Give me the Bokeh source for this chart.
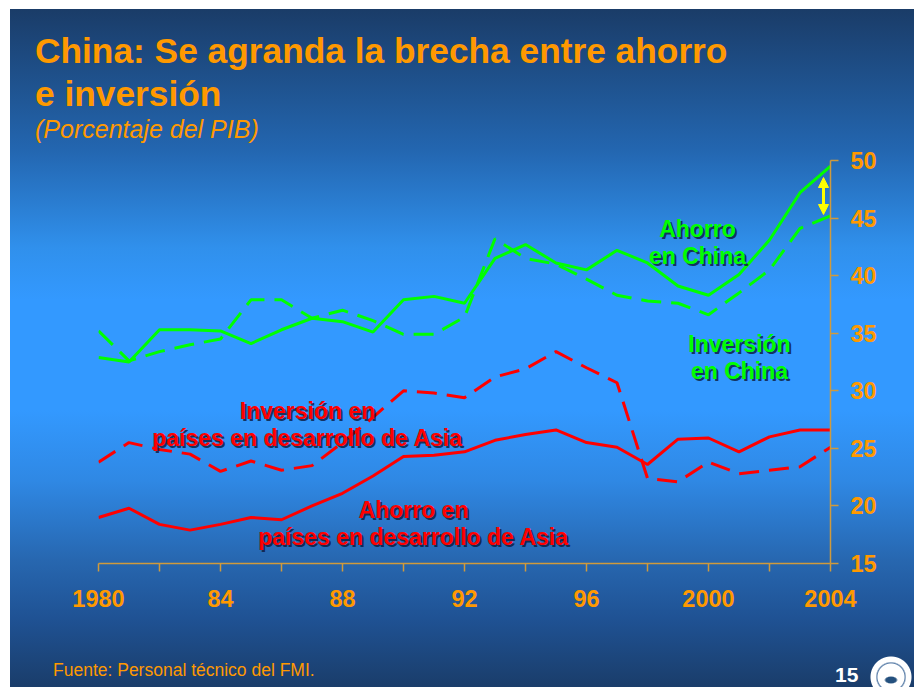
from bokeh.plotting import figure
from bokeh.models import Range1d, FixedTicker, Label, Arrow, NormalHead, Div
from bokeh.layouts import column
from bokeh.embed import file_html
from bokeh.resources import INLINE

# ---------------- data (percent of GDP) ----------------
years = list(range(1980, 2005))
china_saving = [32.9, 32.5, 35.3, 35.3, 35.2, 34.1, 35.3, 36.3, 36.0, 35.1, 37.9, 38.2, 37.6,
                41.5, 42.7, 41.1, 40.5, 42.2, 41.1, 39.1, 38.3, 40.1, 43.1, 47.2, 49.5]
china_invest = [35.2, 32.6, 33.4, 34.0, 34.5, 37.9, 37.9, 36.3, 37.0, 36.1, 34.9, 34.9, 36.4,
                43.2, 41.5, 41.0, 39.7, 38.3, 37.8, 37.6, 36.6, 38.5, 40.5, 44.1, 45.2]
asia_invest = [23.8, 25.5, 24.9, 24.5, 23.0, 23.9, 23.1, 23.5, 25.5, 27.7, 30.0, 29.8, 29.4,
               31.2, 31.9, 33.4, 32.0, 30.7, 22.4, 22.1, 23.8, 22.8, 23.1, 23.4, 25.1]
asia_saving = [19.0, 19.8, 18.4, 17.9, 18.4, 19.0, 18.8, 20.0, 21.1, 22.6, 24.3, 24.4, 24.7,
               25.7, 26.2, 26.6, 25.5, 25.1, 23.6, 25.8, 25.9, 24.7, 26.0, 26.6, 26.6]

x_ticks = list(range(1980, 2005, 2))
x_tick_labels = {1980: "1980", 1984: "84", 1988: "88", 1992: "92", 1996: "96", 2000: "2000", 2004: "2004"}
y_ticks = [15, 20, 25, 30, 35, 40, 45, 50]

title_1 = "China: Se agranda la brecha entre ahorro"
title_2 = "e inversión"
subtitle = "(Porcentaje del PIB)"
source = "Fuente: Personal técnico del FMI."
page_no = "15"

# ---------------- layout ----------------
W, H = 914, 687
HEAD_H = 145
FL, FW = 98, 732            # frame left / width (page px)
FTOP, FH = 160, 403         # frame top / height (page px)
TOP_B = FTOP - HEAD_H
BOT_B = 60
FOOT_H = H - HEAD_H - TOP_B - FH - BOT_B
X0, X1, Y0, Y1 = 1980, 2004, 15, 50

def X(px):   # page pixel -> data x (annotation placement only)
    return X0 + (px - FL) * (X1 - X0) / FW

def Y(py):   # page pixel -> data y
    return Y1 - (py - FTOP) * (Y1 - Y0) / FH

bg = ("radial-gradient(ellipse 7px 4px at 891px 680px, #24507e 0, #24507e 5px, rgba(36,80,126,0) 7px), "
      "radial-gradient(circle at 891px 677px, #ffffff 0, #ffffff 13px, #5a7ea8 14px, #ffffff 15.5px, "
      "#ffffff 20px, rgba(255,255,255,0) 21px), "
      "linear-gradient(to right, #ffffff 0, #ffffff 10px, rgba(255,255,255,0) 10px), "
      "linear-gradient(to bottom, #ffffff 0, #ffffff 9px, #1a3c68 9px, #2366b0 21.8%, #3090ec 36%, "
      "#3399ff 43.7%, #3399ff 59.7%, #2f88e4 70%, #2767b0 81.5%, #1f5294 90%, #1a3d6a 100%)")

ORANGE = "#ff9900"
FONT = "'Liberation Sans', Arial, sans-serif"

def span(text, left, top, size, color=ORANGE, weight="bold", style="normal"):
    return (f'<span style="position:absolute;left:{left}px;top:{top}px;white-space:nowrap;'
            f'font-family:{FONT};font-size:{size}px;line-height:1;font-weight:{weight};'
            f'font-style:{style};color:{color};">{text}</span>')

head_html = ('<div style="position:relative;width:%dpx;height:%dpx;">' % (W, HEAD_H)
             + span(title_1, 35, 33.4, 35.3)
             + span(title_2, 35, 76.4, 35.3)
             + span(subtitle, 35, 116.5, 25, weight="normal", style="italic")
             + '</div>')
header = Div(text=head_html, width=W, height=HEAD_H, margin=0)

foot_html = ('<div style="position:relative;width:%dpx;height:%dpx;">' % (W, FOOT_H)
             + span(source, 53, 38.5, 17.5, weight="normal")
             + span(page_no, 835, 41, 21, color="#ffffff")
             + '</div>')
footer = Div(text=foot_html, width=W, height=FOOT_H, margin=0)

p = figure(frame_width=FW, frame_height=FH,
           min_border_left=FL, min_border_top=TOP_B, min_border_right=W - FL - FW,
           min_border_bottom=BOT_B,
           x_range=Range1d(X0, X1), y_range=Range1d(Y0, Y1),
           y_axis_location="right", toolbar_location=None, output_backend="svg",
           background_fill_alpha=0, border_fill_alpha=0, outline_line_color=None)
p.grid.visible = False

AX = "#d09a3c"
for ax in (p.xaxis[0], p.yaxis[0]):
    ax.axis_line_color = AX
    ax.axis_line_width = 1.5
    ax.major_tick_line_color = AX
    ax.major_tick_line_width = 1.5
    ax.major_tick_out = 8
    ax.major_tick_in = 0
    ax.minor_tick_line_color = None
    ax.major_label_text_color = ORANGE
    ax.major_label_text_font = "Liberation Sans"
    ax.major_label_text_font_style = "bold"
    ax.major_label_text_font_size = "23.5px"

p.xaxis[0].ticker = FixedTicker(ticks=x_ticks)
p.xaxis[0].major_label_overrides = {t: x_tick_labels.get(t, "") for t in x_ticks}
p.xaxis[0].major_label_standoff = 18
p.yaxis[0].ticker = FixedTicker(ticks=y_ticks)
p.yaxis[0].major_label_standoff = 12

GREEN = "#00ff00"
RED = "#ff0000"
p.line(years, china_saving, line_color=GREEN, line_width=3)
p.line(years, china_invest, line_color=GREEN, line_width=3, line_dash="20 10")
p.line(years, asia_saving, line_color=RED, line_width=3)
p.line(years, asia_invest, line_color=RED, line_width=3, line_dash="20 10")

# gap arrow (double-headed)
YEL = "#ffff00"
p.add_layout(Arrow(x_start=X(823), y_start=Y(196), x_end=X(823), y_end=Y(177),
                   line_color=YEL, line_width=3,
                   end=NormalHead(size=10, fill_color=YEL, line_color=YEL)))
p.add_layout(Arrow(x_start=X(823), y_start=Y(194), x_end=X(823), y_end=Y(214),
                   line_color=YEL, line_width=3,
                   end=NormalHead(size=10, fill_color=YEL, line_color=YEL)))

def label(text, px, py, color, size="23px"):
    p.add_layout(Label(x=X(px), y=Y(py), text=text, text_color="#0c1838", text_alpha=0.8,
                       text_font="Liberation Sans", text_font_style="bold", text_font_size=size,
                       text_align="center", text_baseline="alphabetic", x_offset=2, y_offset=-2))
    p.add_layout(Label(x=X(px), y=Y(py), text=text, text_color=color,
                       text_font="Liberation Sans", text_font_style="bold", text_font_size=size,
                       text_align="center", text_baseline="alphabetic"))

label("Ahorro", 697, 228, GREEN)
label("en China", 697, 255, GREEN)
label("Inversión", 739, 343, GREEN)
label("en China", 739, 370, GREEN)
label("Inversión en", 307, 410, RED)
label("países en desarrollo de Asia", 307, 437, RED)
label("Ahorro en", 413, 509, RED)
label("países en desarrollo de Asia", 413, 536, RED)

page = column(header, p, footer, spacing=0, styles={"background": bg})

open("out.html", "w").write(file_html(page, INLINE))
